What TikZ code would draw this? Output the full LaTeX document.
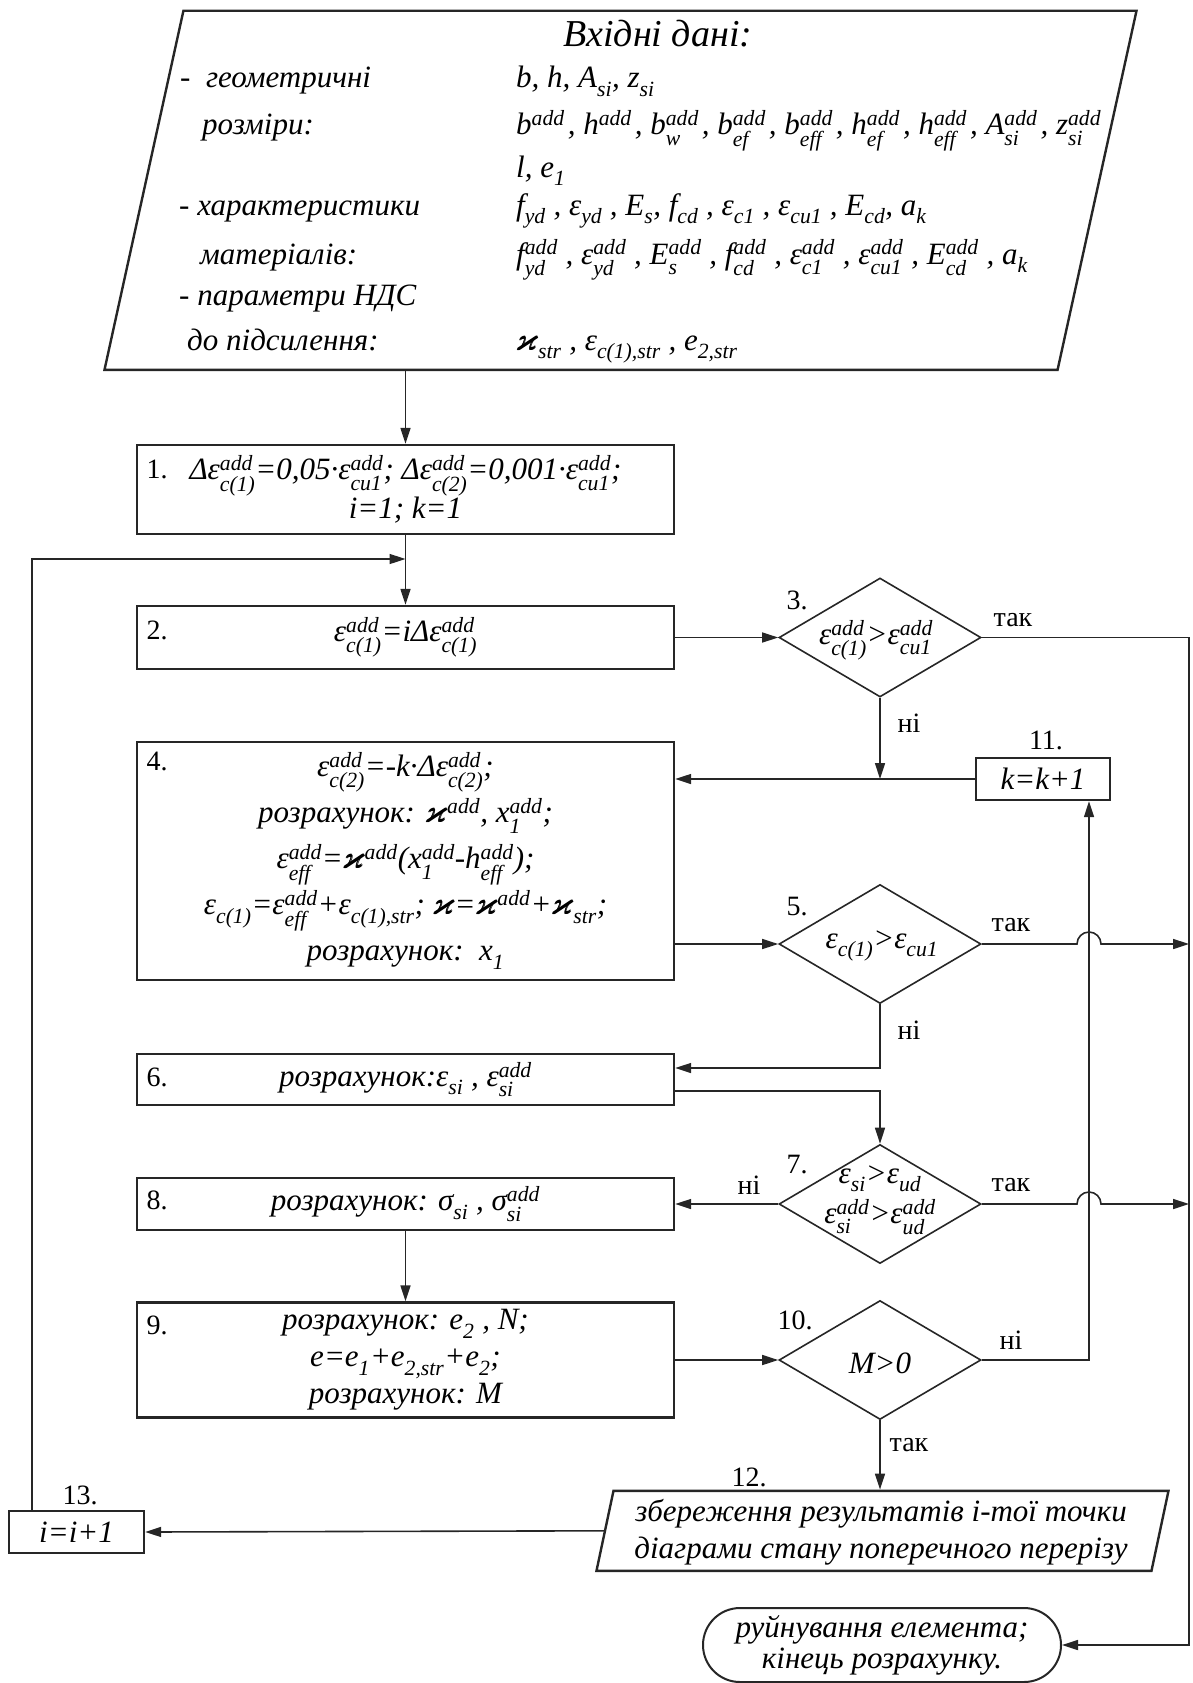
\documentclass[tikz,border=0pt]{standalone}
\usepackage{fontspec}
\usepackage{amsmath,amssymb}
\setmainfont{Liberation Serif}
\usetikzlibrary{arrows.meta,shapes.geometric}
\newcommand\adds[1]{\ensuremath{^{\text{add}}_{\text{\raisebox{-4pt}{#1}}}}}
\newcommand\addo{\ensuremath{^{\text{add}}}}
\newcommand\subs[1]{\ensuremath{_{\text{\raisebox{-5pt}{#1}}}}}
\newcommand\kap{\ensuremath{\pmb{\varkappa}}}
\tikzset{
  >={Triangle[length=16pt,width=10pt]},
  box/.style={draw=black!85,line width=2.4pt,inner sep=0pt,align=center,minimum width=537pt,font=\fontsize{31}{37}\selectfont\itshape},
  cond/.style={diamond,draw=black!85,line width=1.6pt,inner sep=0pt,minimum width=202pt,minimum height=119pt},
  ctext/.style={inner sep=0pt,align=center,font=\fontsize{31}{40}\selectfont\itshape},
  io/.style={trapezium,draw=black!85,line width=2.4pt,inner sep=0pt,trapezium stretches body=true},
  term/.style={draw=black!85,line width=2pt,rounded corners=37pt,inner sep=0pt,align=center,font=\fontsize{31}{31}\selectfont\itshape},
  num/.style={inner sep=0pt,font=\fontsize{28}{28}\selectfont},
  txt/.style={inner sep=0pt,anchor=base west,font=\fontsize{31}{31}\selectfont\itshape},
  flow/.style={->,line width=1.6pt,draw=black!85}
}
\begin{document}
\begin{tikzpicture}[x=1pt,y=-1pt]
  \useasboundingbox (0,0) rectangle (1192,1683);
  \node[io,trapezium left angle=77.6,trapezium right angle=102.4,minimum width=1032pt,anchor=bottom left corner] (input) at (103,371) {\rule{0pt}{359pt}};
  \node[inner sep=0pt,anchor=base,font=\fontsize{38}{38}\selectfont\itshape] (title) at (658,47) {Вхідні дані:};
  \node[txt] (geo) at (180,88) {-~~геометричні};
  \node[txt] (geo2) at (202,135) {розміри:};
  \node[txt] (mat) at (179,215) {- характеристики};
  \node[txt] (mat2) at (200,264) {матеріалів:};
  \node[txt] (ndc) at (179,305) {- параметри НДС};
  \node[txt] (ndc2) at (187,350) {до підсилення:};
  \node[txt] (row1) at (516,88) {b, h, A\subs{si}, z\subs{si}};
  \node[txt] (row2) at (516,135) {b\addo\kern3pt, h\addo\kern3pt, b\adds{w}\kern3pt, b\adds{ef}\kern3pt, b\adds{eff}\kern3pt, h\adds{ef}\kern3pt, h\adds{eff}\kern3pt, A\adds{si}\kern3pt, z\adds{si}};
  \node[txt] (row3) at (516,177) {l, e\subs{1}};
  \node[txt] (row4) at (516,215) {f\subs{yd} , ε\subs{yd} , E\subs{s}, f\subs{cd} , ε\subs{c1} , ε\subs{cu1} , E\subs{cd}, a\subs{k}};
  \node[txt] (row5) at (516,264) {f\adds{yd} , ε\adds{yd} , E\adds{s} , f\adds{cd} , ε\adds{c1} , ε\adds{cu1} , E\adds{cd} , a\subs{k}};
  \node[txt] (row6) at (516,350) {\kap\subs{str} , ε\subs{c(1),str} , e\subs{2,str}};

  \node[box,minimum height=89pt] (b1) at (405.5,489.5) {Δε\adds{c(1)}=0,05·ε\adds{cu1}; Δε\adds{c(2)}=0,001·ε\adds{cu1};\\ i=1; k=1};
  \node[box,minimum height=63pt] (b2) at (405.5,637.5) {ε\adds{c(1)}=iΔε\adds{c(1)}};
  \node[box,minimum height=238pt,font=\fontsize{31}{46}\selectfont\itshape] (b4) at (405.5,861) {ε\adds{c(2)}=-k·Δε\adds{c(2)};\\ розрахунок: \kap\addo, x\adds{1};\\ ε\adds{eff}=\kap\addo(x\adds{1}-h\adds{eff});\\ ε\subs{c(1)}=ε\adds{eff}+ε\subs{c(1),str}; \kap=\kap\addo+\kap\subs{str};\\ розрахунок:~~x\subs{1}};
  \node[box,minimum height=51pt] (b6) at (405.5,1079.5) {розрахунок:ε\subs{si} , ε\adds{si}};
  \node[box,minimum height=52pt] (b8) at (405.5,1204) {розрахунок: σ\subs{si} , σ\adds{si}};
  \node[box,minimum height=115pt] (b9) at (405.5,1360) {розрахунок: e\subs{2} , N;\\ e=e\subs{1}+e\subs{2,str}+e\subs{2};\\ розрахунок: M};
  \node[box,minimum width=134pt,minimum height=42pt] (k11) at (1043,779) {k=k+1};
  \node[box,minimum width=135pt,minimum height=42pt] (b13) at (76.5,1532) {i=i+1};
  \node[cond] (d3) at (880,637.5) {};
  \node[cond] (d5) at (880,944) {};
  \node[cond] (d7) at (880,1204) {};
  \node[cond] (d10) at (880,1360) {};
  \node[ctext] (t3) at (876,640) {ε\adds{c(1)}>ε\adds{cu1}};
  \node[ctext] (t5) at (882,946) {ε\subs{c(1)}>ε\subs{cu1}};
  \node[ctext] (t7) at (880,1200) {ε\subs{si}>ε\subs{ud}\\ε\adds{si}>ε\adds{ud}};
  \node[ctext] (t10) at (880,1363) {M>0};
  \node[io,trapezium left angle=78,trapezium right angle=102,minimum width=572pt,anchor=bottom left corner] (s12) at (595,1572) {\rule{0pt}{80pt}};
  \node[ctext,font=\fontsize{31}{37}\selectfont\itshape] (t12) at (881,1532) {збереження результатів і-тої точки\\ діаграми стану поперечного перерізу};
  \node[term,minimum width=358pt,minimum height=74pt] (stop) at (882,1645) {руйнування елемента;\\ кінець розрахунку.};

  \node[num] (n1) at (157,469) {1.};
  \node[num] (n2) at (157,630) {2.};
  \node[num] (n3) at (797,600) {3.};
  \node[num] (n4) at (157,761) {4.};
  \node[num] (n5) at (797,907) {5.};
  \node[num] (n6) at (157,1077) {6.};
  \node[num] (n7) at (797,1165) {7.};
  \node[num] (n8) at (157,1200) {8.};
  \node[num] (n9) at (157,1325) {9.};
  \node[num] (n10) at (795,1320) {10.};
  \node[num] (n11) at (1046,740) {11.};
  \node[num] (n12) at (749,1477) {12.};
  \node[num] (n13) at (80,1495) {13.};
  \node[num] (yes3) at (1013,620) {так};
  \node[num] (no3) at (909,723) {ні};
  \node[num] (yes5) at (1011,925) {так};
  \node[num] (no5) at (909,1030) {ні};
  \node[num] (no7) at (749,1185) {ні};
  \node[num] (yes7) at (1011,1185) {так};
  \node[num] (no10) at (1011,1340) {ні};
  \node[num] (yes10) at (909,1445) {так};

  \coordinate (join) at (405.5,559);
  \coordinate (rise) at (1089,0);
  \coordinate (hop) at (1077,0);
  \coordinate (rail) at (1189,0);
  \draw[flow] (input.south -| b1.north) -- (b1.north);
  \draw[flow] (b1) -- (b2);
  \draw[flow] ([xshift=-44.5pt]b13.north) |- (join);
  \draw[flow] (b2) -- (d3);
  \draw[flow] (d3.east) -| (stop.east -| rail) -- (stop.east);
  \draw[flow] (d3.south) -- (d3.south |- k11.west);
  \draw[flow] (k11.west) -- (k11.west -| b4.east);
  \draw[flow] (b4.east |- d5) -- (d5.west);
  \draw[flow] (d5.east) -- (d5.east -| hop) arc[start angle=180,end angle=360,radius=12] -- (d5.east -| rail);
  \draw[flow] (d5.south) |- ([yshift=11.5pt]b6.east);
  \draw[flow] ([yshift=-11.5pt]b6.east) -| (d7.north);
  \draw[flow] (d7.west) -- (b8.east);
  \draw[flow] (d7.east) -- (d7.east -| hop) arc[start angle=180,end angle=360,radius=12] -- (d7.east -| rail);
  \draw[flow] (b8) -- (b9);
  \draw[flow] (b9.east) -- (d10.west);
  \draw[flow] (d10.east) -| (k11.south -| rise);
  \draw[flow] (d10.south) -- (d10.south |- s12.north);
  \draw[flow] (s12.west) -- (b13.east);
\end{tikzpicture}
\end{document}
